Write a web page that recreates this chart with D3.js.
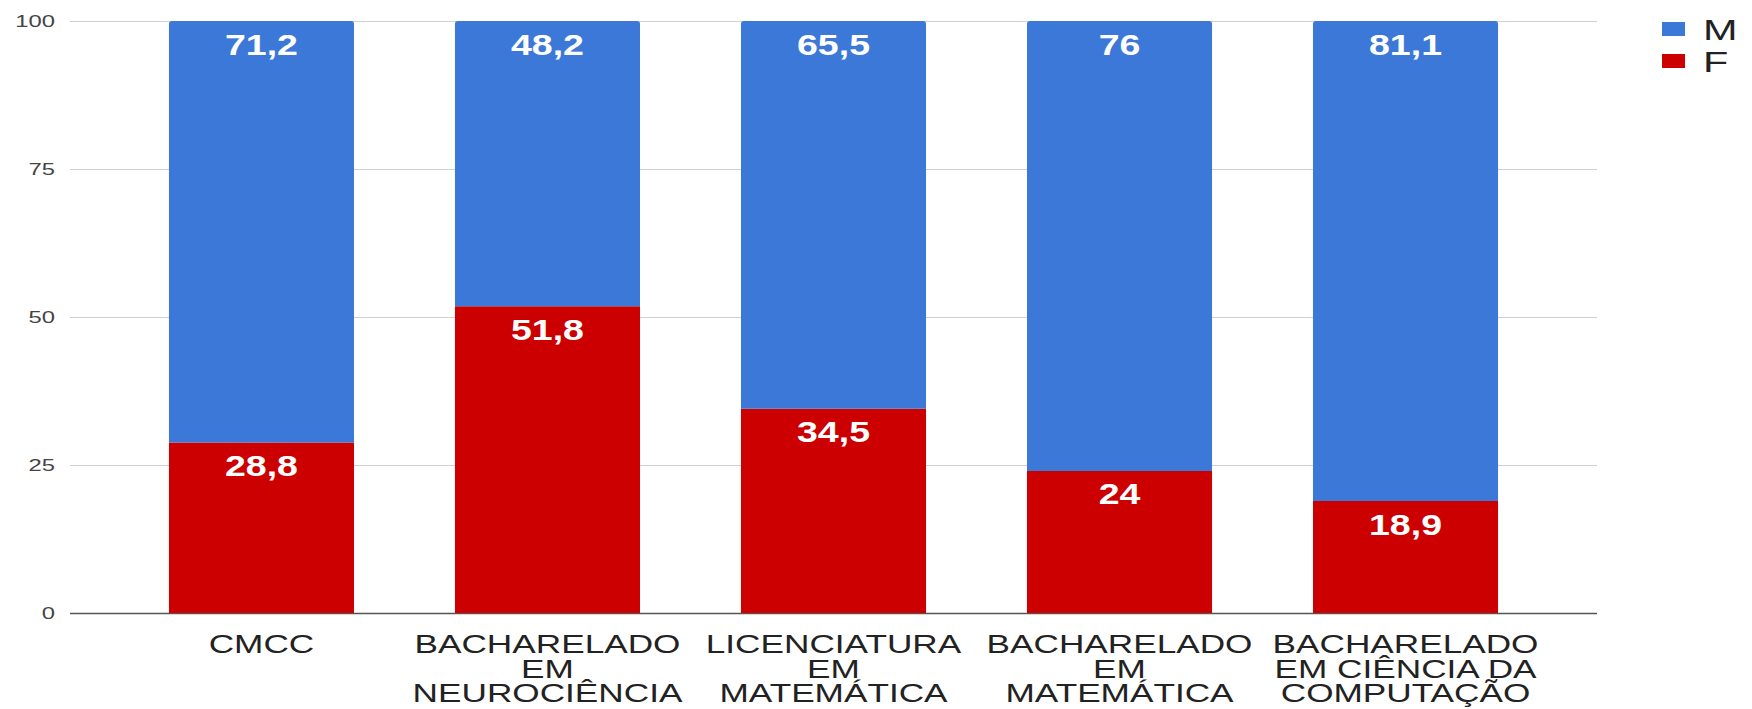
<!DOCTYPE html>
<html>
<head>
<meta charset="utf-8">
<script src="https://cdn.jsdelivr.net/npm/d3@7"></script>
<style>
  html, body { margin: 0; padding: 0; background: #fff; }
  text { font-family: "Liberation Sans", Arial, sans-serif; }
</style>
</head>
<body>
<svg id="chart" width="1752" height="709"></svg>
<script>
// data
const courses = ['CMCC', 'BACHARELADO EM NEUROCIÊNCIA', 'LICENCIATURA EM MATEMÁTICA',
  'BACHARELADO EM MATEMÁTICA', 'BACHARELADO EM CIÊNCIA DA COMPUTAÇÃO']
const courseLines = [
  ['CMCC'],
  ['BACHARELADO', 'EM', 'NEUROCIÊNCIA'],
  ['LICENCIATURA', 'EM', 'MATEMÁTICA'],
  ['BACHARELADO', 'EM', 'MATEMÁTICA'],
  ['BACHARELADO', 'EM CIÊNCIA DA', 'COMPUTAÇÃO']
]
const maleValues = [71.2, 48.2, 65.5, 76, 81.1]
const femaleValues = [28.8, 51.8, 34.5, 24, 18.9]
const yTicks = [0, 25, 50, 75, 100]
const seriesKeys = ['F', 'M']          // stack order, bottom first
const legendKeys = ['M', 'F']
const colors = { M: '#3c78d8', F: '#cc0000' }

const rows = courses.map((c, i) => ({ course: c, M: maleValues[i], F: femaleValues[i] }))

const svg = d3.select('#chart')
const plot = { left: 70, right: 1597, top: 21, bottom: 613 }

// the source picture is stretched sideways, so text gets widened too
function stretch(sel, sx) {
  sel.each(function () {
    const w = this.getComputedTextLength()
    d3.select(this).attr('textLength', w * sx).attr('lengthAdjust', 'spacingAndGlyphs')
  })
}

const x = d3.scaleBand()
  .domain(courses)
  .range([plot.left, plot.right])
  .paddingInner(0.353)
  .paddingOuter(0.346)

const y = d3.scaleLinear()
  .domain([0, 100])
  .range([plot.bottom, plot.top])

const ptBR = d3.formatLocale({ decimal: ',', thousands: '.', grouping: [3], currency: ['R$', ''] })
const fmt = v => ptBR.format(',')(v)

// gridlines + y labels
const yAxis = d3.axisLeft(y).tickValues(yTicks).tickSize(-(plot.right - plot.left)).tickPadding(15)
const gy = svg.append('g')
  .attr('transform', `translate(${plot.left},0)`)
  .call(yAxis)
gy.select('.domain').remove()
gy.selectAll('.tick line')
  .attr('stroke', d => d === 0 ? '#555' : '#d0d0d0')
  .attr('stroke-width', d => d === 0 ? 1.5 : 1)
gy.selectAll('.tick text')
  .attr('fill', '#444')
  .attr('font-size', 17)
  .call(stretch, 1.4)

// stacked bars
const stacked = d3.stack().keys(seriesKeys)(rows)
const r = 3

function barPath(x0, w, yTop, yBot, rounded) {
  if (!rounded) return `M${x0},${yBot}V${yTop}H${x0 + w}V${yBot}Z`
  return `M${x0},${yBot}V${yTop + r}Q${x0},${yTop} ${x0 + r},${yTop}` +
    `H${x0 + w - r}Q${x0 + w},${yTop} ${x0 + w},${yTop + r}V${yBot}Z`
}

const layers = svg.append('g').selectAll('g')
  .data(stacked)
  .join('g')
  .attr('fill', d => colors[d.key])

layers.selectAll('path')
  .data(d => d.map(s => ({ key: d.key, s })))
  .join('path')
  .attr('d', d => barPath(x(d.s.data.course), x.bandwidth(), y(d.s[1]), y(d.s[0]), d.key === 'M'))

// value labels inside the top of each segment
svg.append('g').selectAll('g')
  .data(stacked)
  .join('g')
  .selectAll('text')
  .data(d => d.map(s => ({ key: d.key, s })))
  .join('text')
  .attr('x', d => x(d.s.data.course) + x.bandwidth() / 2)
  .attr('y', d => y(d.s[1]) + 33.5)
  .attr('text-anchor', 'middle')
  .attr('fill', '#fff')
  .attr('font-weight', 'bold')
  .attr('font-size', 30)
  .text(d => fmt(d.s.data[d.key]))
  .call(stretch, 1.25)

// category labels, one text per line
const cat = svg.append('g').selectAll('g')
  .data(courses)
  .join('g')
  .attr('transform', d => `translate(${x(d) + x.bandwidth() / 2},0)`)

cat.selectAll('text')
  .data((d, i) => courseLines[i])
  .join('text')
  .attr('x', 0)
  .attr('y', (d, j) => 653 + j * 24.5)
  .attr('text-anchor', 'middle')
  .attr('fill', '#222')
  .attr('font-size', 25.5)
  .text(d => d)
  .call(stretch, 1.38)

// legend
const legend = svg.append('g').selectAll('g')
  .data(legendKeys)
  .join('g')
  .attr('transform', (d, i) => `translate(1662,${22 + i * 32})`)

legend.append('rect')
  .attr('width', 23)
  .attr('height', 14)
  .attr('fill', d => colors[d])

legend.append('text')
  .attr('x', 41)
  .attr('y', 18)
  .attr('fill', '#222')
  .attr('font-size', 30)
  .text(d => d)
  .call(stretch, 1.38)
</script>
</body>
</html>
